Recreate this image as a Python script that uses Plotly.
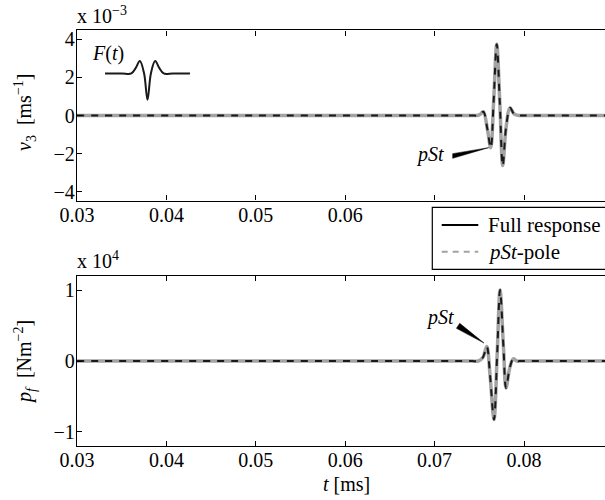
import plotly.graph_objects as go

# ---- data ----
t_top = [0.03, 0.05, 0.0735, 0.0742, 0.0748, 0.0751, 0.07545, 0.0759, 0.07628, 0.0766, 0.07695, 0.0773, 0.07762, 0.0780, 0.07844, 0.0789, 0.0795, 0.0800, 0.0820, 0.09]
v3_full = [0, 0, 0, 0, 0, 0.06, 0.2, -0.7, -1.69, 0.7, 3.72, 0.6, -2.62, -0.6, 0.40, 0.08, 0, 0, 0, 0]
v3_pole = [0, 0, 0, 0, 0, 0.06, 0.2, -0.7, -1.69, 0.7, 3.72, 0.6, -2.62, -0.6, 0.40, 0.08, 0, 0, 0, 0]

t_bot = [0.03, 0.05, 0.0735, 0.0742, 0.0749, 0.0754, 0.07583, 0.0762, 0.07664, 0.0770, 0.07732, 0.0777, 0.07799, 0.0784, 0.0788, 0.0792, 0.0797, 0.0820, 0.09]
pf_full = [0, 0, 0, 0, 0, 0.05, 0.205, -0.2, -0.826, 0.1, 1.003, 0.2, -0.38, -0.1, 0.03, 0, 0, 0, 0]
pf_pole = [0, 0, 0, 0, 0, 0.05, 0.205, -0.2, -0.826, 0.1, 1.003, 0.2, -0.38, -0.1, 0.03, 0, 0, 0, 0]

f_t = [0, 0.2, 0.31, 0.36, 0.41, 0.46, 0.50, 0.54, 0.59, 0.64, 0.69, 0.8, 1.0]
f_v = [0, 0, 0, 0.2, 0.47, 0, -1, 0, 0.47, 0.2, 0, 0, 0]

x_ticks = [0.03, 0.04, 0.05, 0.06, 0.07, 0.08]
x_top_labels = ["0.03", "0.04", "0.05", "0.06", "", ""]
x_bot_labels = ["0.03", "0.04", "0.05", "0.06", "0.07", "0.08"]
y_top_ticks = [-4, -2, 0, 2, 4]
y_bot_ticks = [-1, 0, 1]

FONT = "Liberation Serif, Times New Roman, Times, DejaVu Serif, serif"
GRAY = "#a3a3a3"

fig = go.Figure()
for xs, ys, ax in [(t_top, v3_full, ("x", "y")), (t_bot, pf_full, ("x2", "y2"))]:
    fig.add_trace(go.Scatter(x=xs, y=ys, mode="lines", xaxis=ax[0], yaxis=ax[1],
                             line=dict(color=GRAY, width=3.5, shape="spline", smoothing=1),
                             showlegend=False, hoverinfo="skip"))
for xs, ys, ax in [(t_top, v3_pole, ("x", "y")), (t_bot, pf_pole, ("x2", "y2"))]:
    fig.add_trace(go.Scatter(x=xs, y=ys, mode="lines", xaxis=ax[0], yaxis=ax[1],
                             line=dict(color="#1a1a1a", width=2, dash="7px,7px", shape="spline", smoothing=1),
                             showlegend=False, hoverinfo="skip"))
# inset F(t)
fig.add_trace(go.Scatter(x=f_t, y=f_v, mode="lines", xaxis="x3", yaxis="y3",
                         line=dict(color="#1a1a1a", width=2, shape="spline", smoothing=1),
                         showlegend=False, hoverinfo="skip"))

axis_common = dict(showgrid=False, zeroline=False, showline=True, linecolor="black", linewidth=1.3,
                   ticks="inside", ticklen=5, tickcolor="black", tickwidth=1, automargin=False,
                   tickfont=dict(family=FONT, size=20, color="black"))

xr = [0.03, 0.08906]
fig.update_layout(
    width=605, height=500, margin=dict(l=0, r=0, t=0, b=0, pad=0, autoexpand=False),
    paper_bgcolor="white", plot_bgcolor="white", font=dict(family=FONT),
    xaxis=dict(domain=[0.1273, 1], range=xr, tickvals=x_ticks, ticktext=x_top_labels, mirror="ticks",
               anchor="y", ticklabelstandoff=-4, **axis_common),
    yaxis=dict(domain=[0.5988, 0.9392], range=[-4.45, 4.45], tickvals=y_top_ticks, mirror=False,
               anchor="x", ticklabelstandoff=-3, **axis_common),
    xaxis2=dict(domain=[0.1273, 1], range=xr, tickvals=x_ticks, ticktext=x_bot_labels, mirror="ticks",
                anchor="y2", ticklabelstandoff=-4, **axis_common),
    yaxis2=dict(domain=[0.108, 0.448], range=[-1.2, 1.2], tickvals=y_bot_ticks, mirror=False,
                anchor="x2", ticklabelstandoff=-3, **axis_common),
    xaxis3=dict(domain=[0.1736, 0.3140], range=[0, 1], visible=False, anchor="y3", automargin=False),
    yaxis3=dict(domain=[0.798, 0.882], range=[-1.05, 0.55], visible=False, anchor="x3", automargin=False),
)


def ann(text, x, y, xref="paper", yref="paper", xanchor="center", yanchor="middle", size=20, angle=0):
    return dict(text=text, x=x, y=y, xref=xref, yref=yref, xanchor=xanchor, yanchor=yanchor,
                textangle=angle, showarrow=False, font=dict(family=FONT, size=size, color="black"))


annotations = [
    ann("x 10<sup>−3</sup>", 75 / 605, 1 - 29 / 500, xanchor="left", yanchor="bottom"),
    ann("x 10<sup>4</sup>", 75 / 605, 1 - 274 / 500, xanchor="left", yanchor="bottom"),
    ann("<i>v</i><sub>3</sub>  [ms<sup>−1</sup>]", 25 / 605, 1 - 113 / 500, angle=-90),
    ann("<i>p</i><sub><i>f</i></sub>  [Nm<sup>−2</sup>]", 25 / 605, 1 - 362 / 500, angle=-90),
    ann("<i>t</i> [ms]", 346 / 605, 1 - 484 / 500),
    ann("<i>F</i>(<i>t</i>)", 107.5 / 605, 1 - 54 / 500),
    ann("<i>pSt</i>", 0.06949, -2.05, xref="x", yref="y"),
    ann("<i>pSt</i>", 0.07060, 0.609, xref="x2", yref="y2"),
    ann("Full response", 486 / 605, 1 - 225 / 500, xanchor="left", size=21),
    ann("<i>pSt</i>-pole", 486 / 605, 1 - 252 / 500, xanchor="left", size=21),
]
fig.update_layout(annotations=annotations)

shapes = [
    # pointer wedges
    dict(type="path", xref="x", yref="y",
         path="M 0.07202 -1.995 L 0.07605 -1.68 L 0.07202 -2.241 Z",
         fillcolor="black", line=dict(color="black", width=0.5)),
    dict(type="path", xref="x2", yref="y2",
         path="M 0.07244 0.461 L 0.07553 0.253 L 0.07281 0.532 Z",
         fillcolor="black", line=dict(color="black", width=0.5)),
    # legend box
    dict(type="rect", xref="paper", yref="paper", x0=432.3 / 605, x1=1.05,
         y0=1 - 269.3 / 500, y1=1 - 207.3 / 500, fillcolor="white",
         line=dict(color="black", width=1.2), layer="above"),
    dict(type="line", xref="paper", yref="paper", x0=441.7 / 605, x1=478.3 / 605,
         y0=1 - 225 / 500, y1=1 - 225 / 500, line=dict(color="black", width=2), layer="above"),
    dict(type="line", xref="paper", yref="paper", x0=441.7 / 605, x1=478.3 / 605,
         y0=1 - 251.7 / 500, y1=1 - 251.7 / 500, line=dict(color=GRAY, width=2, dash="6px,5px"),
         layer="above"),
]
fig.update_layout(shapes=shapes)

fig.write_html("out.html", config={"displayModeBar": False},
               post_script="document.body.style.margin='0';document.body.style.overflow='hidden';")
